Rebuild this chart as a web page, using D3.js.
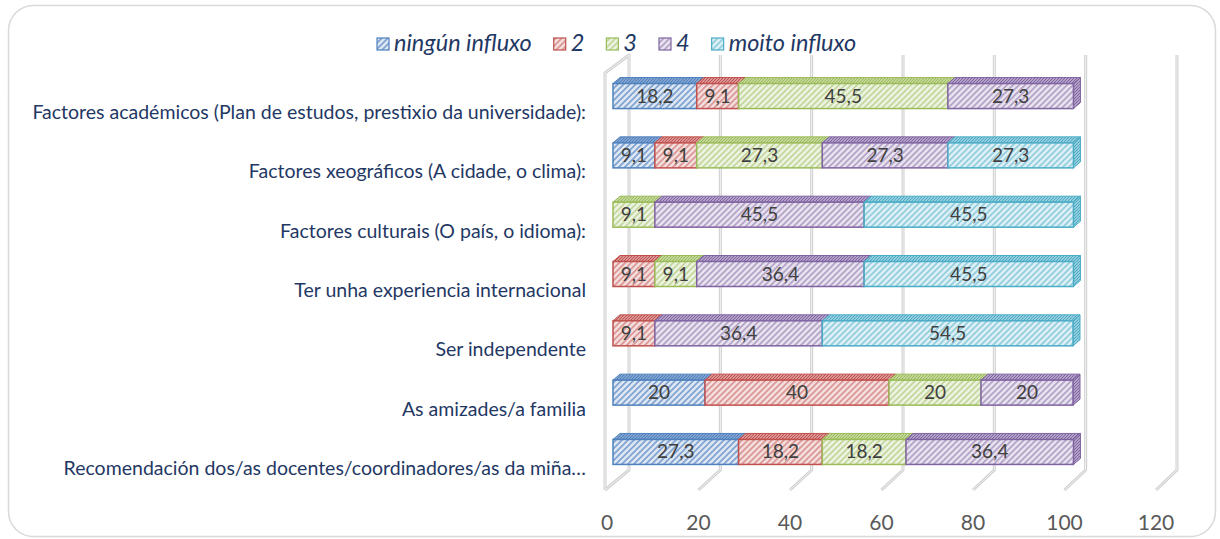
<!DOCTYPE html>
<html>
<head>
<meta charset="utf-8">
<script src="https://cdn.jsdelivr.net/npm/d3@7"></script>
<style>
  body { margin: 0; background: #fff; }
  svg { display: block; }
</style>
</head>
<body>
<script>
// categories, top to bottom as in the chart
var categories = [
  "Factores académicos (Plan de estudos, prestixio da universidade):",
  "Factores xeográficos (A cidade, o clima):",
  "Factores culturais (O país, o idioma):",
  "Ter unha experiencia internacional",
  "Ser independente",
  "As amizades/a familia",
  "Recomendación dos/as docentes/coordinadores/as da miña…"
]
var seriesNames = ["ningún influxo", "2", "3", "4", "moito influxo"]

// one array per series, same order as categories
var ningun = [18.2, 9.1, 0, 0, 0, 20, 27.3]
var dous   = [9.1, 9.1, 0, 9.1, 9.1, 40, 18.2]
var tres   = [45.5, 27.3, 9.1, 9.1, 0, 20, 18.2]
var catro  = [27.3, 27.3, 45.5, 36.4, 36.4, 20, 36.4]
var moito  = [0, 27.3, 45.5, 45.5, 54.5, 0, 0]

var tickValues = [0, 20, 40, 60, 80, 100, 120]

var colors = {
  line:  ["#4f81bd", "#c0504d", "#9bbb59", "#8064a2", "#4bacc6"],
  light: ["#dde7f3", "#f4dedd", "#edf3e1", "#e7e2ee", "#dcf0f6"],
  hatch: ["#7fa2d0", "#d99694", "#c3d69b", "#b3a2c7", "#93cddd"]
}

var width = 1220, height = 539

var rows = categories.map(function(c, i) {
  return { cat: c, "ningún influxo": ningun[i], "2": dous[i], "3": tres[i], "4": catro[i], "moito influxo": moito[i] }
})
var stacked = d3.stack().keys(seriesNames)(rows)

var svg = d3.select("body").append("svg")
  .attr("width", width).attr("height", height)

// hatch patterns
var defs = svg.append("defs")
seriesNames.forEach(function(s, i) {
  var p = defs.append("pattern")
    .attr("id", "hatch" + i)
    .attr("patternUnits", "userSpaceOnUse")
    .attr("width", 6).attr("height", 6)
  p.append("rect").attr("width", 6).attr("height", 6).attr("fill", colors.light[i])
  p.append("path")
    .attr("d", "M0,6 L6,0 M-1,1 L1,-1 M5,7 L7,5")
    .attr("stroke", colors.hatch[i])
    .attr("stroke-width", 1.6)
  var q = defs.append("pattern")
    .attr("id", "dense" + i)
    .attr("patternUnits", "userSpaceOnUse")
    .attr("width", 3).attr("height", 3)
  q.append("rect").attr("width", 3).attr("height", 3).attr("fill", colors.hatch[i])
  q.append("path")
    .attr("d", "M0,3 L3,0")
    .attr("stroke", colors.line[i])
    .attr("stroke-width", 1)
})

// outer frame
svg.append("rect")
  .attr("x", 8.5).attr("y", 5.5)
  .attr("width", 1207).attr("height", 531)
  .attr("rx", 25)
  .attr("fill", "#fff")
  .attr("stroke", "#d9d9d9")
  .attr("stroke-width", 1.5)

// scales: front floor edge, back wall, and bars (sit in between)
var xFront = d3.scaleLinear().domain([0, 120]).range([607, 1156])
var xBack = d3.scaleLinear().domain([0, 120]).range([629, 1177])
var xBar = d3.scaleLinear().domain([0, 120]).range([613, 1165])
var y = d3.scaleBand().domain(categories).range([66.4, 481.6])

var wallTop = 55, wallBottom = 470, floorFront = 490
var barH = 25, dx = 7, dy = -6

// gridlines (back wall + floor), drawn as pale tubes
var grid = svg.append("g")
function tube(pts) {
  var line = d3.line()
  grid.append("path").attr("d", line(pts)).attr("fill", "none")
    .attr("stroke", "#cfcfcf").attr("stroke-width", 3).attr("stroke-linejoin", "round")
  grid.append("path").attr("d", line(pts)).attr("fill", "none")
    .attr("stroke", "#f3f3f3").attr("stroke-width", 1).attr("stroke-linejoin", "round")
}
tickValues.forEach(function(t) {
  if (t == 0) {
    tube([[xFront(0) - 2, floorFront], [xFront(0) - 2, wallTop + 18], [xBack(0), wallTop], [xBack(0), wallBottom], [xFront(0) - 2, floorFront]])
  } else {
    tube([[xBack(t), wallTop], [xBack(t), wallBottom], [xFront(t), floorFront]])
  }
})

// tick labels
svg.append("g").selectAll("text")
  .data(tickValues)
  .enter().append("text")
  .attr("x", function(d) { return xFront(d) })
  .attr("y", 530)
  .attr("text-anchor", "middle")
  .attr("font-family", "Lato, sans-serif")
  .attr("font-size", "21px")
  .attr("fill", "#595959")
  .text(function(d) { return d })

// category labels
svg.append("g").selectAll("text")
  .data(categories)
  .enter().append("text")
  .attr("x", 586)
  .attr("y", function(d) { return y(d) + y.bandwidth() / 2 + 23 })
  .attr("text-anchor", "end")
  .attr("font-family", "Lato, sans-serif")
  .attr("font-size", "19.5px")
  .attr("fill", "#1f3864")
  .text(function(d) { return d })

// bars
var fmt = function(v) { return String(v).replace(".", ",") }
var bars = svg.append("g")
stacked.forEach(function(layer, si) {
  var key = layer.key
  layer.forEach(function(seg, ri) {
    var v = rows[ri][key]
    if (v <= 0) return
    var x0 = xBar(seg[0]), x1 = xBar(seg[1])
    var yc = y(categories[ri]) + y.bandwidth() / 2
    var y0 = yc - barH / 2, y1 = yc + barH / 2
    var g = bars.append("g")
    // top face
    g.append("path")
      .attr("d", "M" + x0 + "," + y0 + "L" + (x0 + dx) + "," + (y0 + dy) + "L" + (x1 + dx) + "," + (y0 + dy) + "L" + x1 + "," + y0 + "Z")
      .attr("fill", "url(#dense" + si + ")")
      .attr("stroke", colors.line[si]).attr("stroke-width", 1)
    // end face, only on the last segment of the row
    var last = seriesNames.slice(si + 1).every(function(k) { return rows[ri][k] == 0 })
    if (last) {
      g.append("path")
        .attr("d", "M" + x1 + "," + y0 + "L" + (x1 + dx) + "," + (y0 + dy) + "L" + (x1 + dx) + "," + (y1 + dy) + "L" + x1 + "," + y1 + "Z")
        .attr("fill", "url(#dense" + si + ")")
        .attr("stroke", colors.line[si]).attr("stroke-width", 1)
    }
    // front face
    g.append("rect")
      .attr("x", x0).attr("y", y0)
      .attr("width", x1 - x0).attr("height", barH)
      .attr("fill", "url(#hatch" + si + ")")
      .attr("stroke", colors.line[si]).attr("stroke-width", 1.5)
    g.append("text")
      .attr("x", (x0 + x1) / 2)
      .attr("y", yc + 6.5)
      .attr("text-anchor", "middle")
      .attr("font-family", "Lato, sans-serif")
      .attr("font-size", "19px")
      .attr("fill", "#404040")
      .text(fmt(v))
  })
})

// legend
var legend = svg.append("g")
var lx = 377
seriesNames.forEach(function(s, i) {
  legend.append("rect")
    .attr("x", lx).attr("y", 38)
    .attr("width", 12).attr("height", 12)
    .attr("fill", "url(#hatch" + i + ")")
    .attr("stroke", colors.line[i]).attr("stroke-width", 1.2)
  var t = legend.append("text")
    .attr("x", lx + 17).attr("y", 51)
    .attr("font-family", "Lato, sans-serif")
    .attr("font-style", "italic")
    .attr("font-size", "23.5px")
    .attr("fill", "#1f3864")
    .text(s)
  lx += 17 + t.node().getComputedTextLength() + 22
})
</script>
</body>
</html>
